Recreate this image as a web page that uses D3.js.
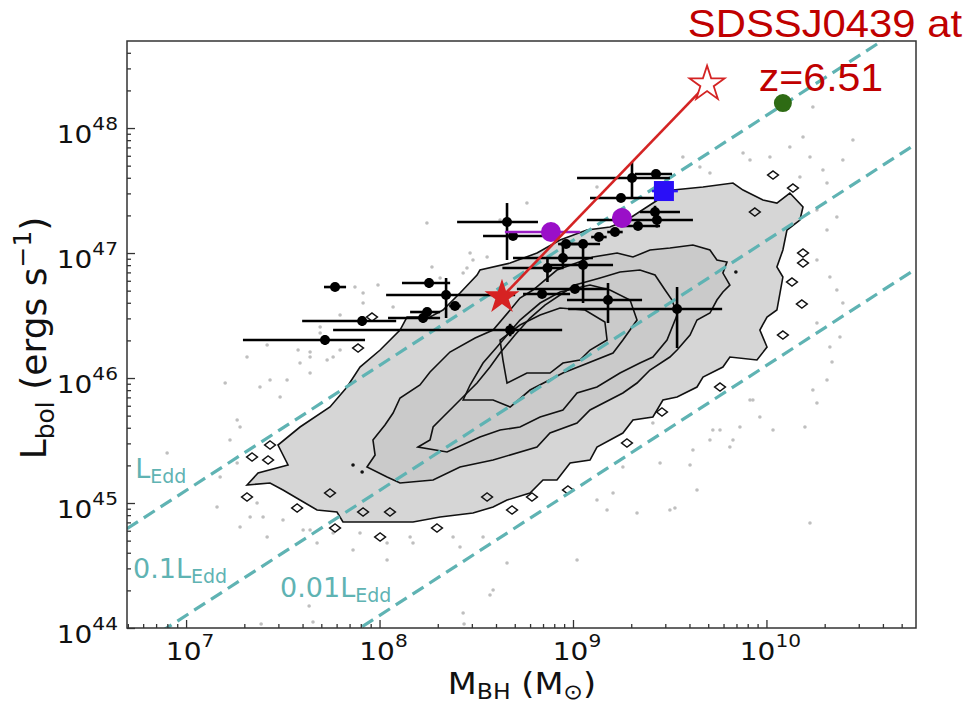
<!DOCTYPE html>
<html><head><meta charset="utf-8">
<script src="https://cdn.jsdelivr.net/npm/d3@7"></script>
<style>body{margin:0;background:#fff}svg{display:block}</style>
</head><body><svg id="c" width="967" height="706"></svg>
<script>
// ---------------- data (log10 values) ----------------
const massTicks = [1e7, 1e8, 1e9, 1e10];
const lumTicks = [1e44, 1e45, 1e46, 1e47, 1e48];
const eddFractions = [1, 0.1, 0.01];
const eddLabels = ["", "0.1", "0.01"];
const eddConst = 1.26e38; // erg/s per solar mass

// SDSS quasar density contours [logM, logL]
const contourOuter = [[7.315,45.144],[7.372,45.240],[7.527,45.304],[7.475,45.464],[7.589,45.608],[7.744,45.768],[7.832,45.928],[7.899,46.088],[8.003,46.224],[8.106,46.384],[8.142,46.488],[8.261,46.488],[8.328,46.544],[8.416,46.680],[8.504,46.824],[8.519,46.864],[8.675,46.920],[8.814,47.000],[8.933,47.104],[9.072,47.184],[9.191,47.208],[9.279,47.264],[9.382,47.368],[9.517,47.504],[9.672,47.528],[9.827,47.560],[9.879,47.504],[9.982,47.424],[10.054,47.400],[10.121,47.480],[10.189,47.368],[10.173,47.264],[10.106,47.184],[10.085,47.024],[10.054,46.888],[10.085,46.808],[10.070,46.680],[10.054,46.544],[10.003,46.488],[9.966,46.384],[10.003,46.248],[9.951,46.144],[9.811,46.168],[9.775,46.088],[9.672,46.008],[9.641,45.928],[9.538,45.848],[9.465,45.824],[9.413,45.688],[9.310,45.664],[9.258,45.560],[9.124,45.448],[9.088,45.344],[8.985,45.320],[8.917,45.184],[8.845,45.184],[8.778,45.080],[8.659,45.024],[8.587,44.968],[8.483,44.920],[8.313,44.888],[8.173,44.848],[8.039,44.848],[7.811,44.848],[7.780,44.928],[7.677,44.944],[7.589,45.024],[7.501,45.104],[7.434,45.160]];
const contour2 = [[7.935,45.288],[7.977,45.384],[7.966,45.504],[8.028,45.624],[8.070,45.720],[8.106,45.840],[8.209,45.944],[8.261,46.048],[8.364,46.208],[8.494,46.320],[8.587,46.384],[8.675,46.544],[8.726,46.640],[8.793,46.704],[8.917,46.864],[9.103,46.968],[9.228,47.000],[9.310,46.968],[9.398,47.024],[9.501,47.040],[9.620,47.064],[9.708,47.024],[9.744,46.944],[9.796,46.928],[9.775,46.840],[9.811,46.744],[9.775,46.688],[9.744,46.624],[9.708,46.520],[9.641,46.464],[9.605,46.344],[9.538,46.224],[9.501,46.168],[9.398,46.064],[9.331,45.960],[9.258,45.880],[9.088,45.744],[9.021,45.640],[8.881,45.560],[8.814,45.448],[8.587,45.344],[8.416,45.288],[8.277,45.184],[8.106,45.160],[8.039,45.208]];
const contour3 = [[8.199,45.448],[8.261,45.504],[8.277,45.608],[8.328,45.688],[8.380,45.768],[8.452,45.880],[8.504,45.960],[8.571,46.088],[8.623,46.200],[8.700,46.344],[8.778,46.480],[8.855,46.584],[8.933,46.664],[9.010,46.744],[9.140,46.800],[9.243,46.848],[9.346,46.864],[9.424,46.824],[9.476,46.704],[9.512,46.624],[9.538,46.504],[9.486,46.304],[9.413,46.168],[9.346,46.120],[9.243,46.040],[9.124,45.928],[9.021,45.880],[8.948,45.744],[8.830,45.688],[8.726,45.608],[8.623,45.584],[8.519,45.528],[8.349,45.408]];
const contour4 = [[8.432,45.824],[8.468,45.944],[8.535,46.120],[8.607,46.248],[8.726,46.464],[8.830,46.600],[8.933,46.688],[9.088,46.744],[9.191,46.704],[9.295,46.624],[9.331,46.464],[9.258,46.304],[9.207,46.200],[8.948,46.040],[8.778,45.904],[8.675,45.768],[8.587,45.824],[8.519,45.824]];
const contour5 = [[8.623,46.304],[8.638,46.144],[8.659,45.960],[8.762,46.040],[8.881,46.040],[8.948,46.120],[9.036,46.144],[9.088,46.224],[9.176,46.304],[9.165,46.448],[9.062,46.544],[8.933,46.560],[8.830,46.504],[8.726,46.424]];
const contourIslands = [[7.434,45.464],[7.341,45.368],[7.424,45.344],[7.315,45.048],[7.744,45.080],[7.574,44.960],[7.770,44.800],[8.003,44.728],[8.297,44.800],[8.556,45.048],[7.915,44.928],[8.054,44.928],[9.760,45.928],[9.460,45.728],[9.279,45.480],[8.974,45.104],[8.788,45.048],[8.685,44.944],[10.034,47.624],[10.137,47.520],[9.940,47.328],[10.189,47.000],[10.189,46.920],[10.132,46.768],[10.183,46.592],[10.085,46.344],[7.961,46.488],[7.889,46.240]];
const contourSpecks = [[7.863,45.304],[7.910,45.248],[9.842,46.848]];
// sparse SDSS quasars outside the dense cloud
const sdssSparse = [[8.245,47.240],[8.271,46.888],[7.873,46.728],[7.992,46.744],[7.915,46.680],[7.915,46.600],[7.796,46.504],[7.693,46.408],[7.693,46.360],[7.419,46.264],[7.315,46.168],[7.579,46.224],[7.641,46.208],[8.070,46.568],[8.483,46.944],[8.432,46.840],[8.313,46.800],[7.202,45.960],[7.434,45.984],[7.522,45.984],[7.589,46.120],[7.641,46.040],[7.264,45.664],[7.176,45.208],[7.279,44.808],[7.419,44.728],[7.501,44.864],[7.605,44.784],[7.677,44.680],[7.863,44.624],[8.039,44.680],[8.173,44.680],[8.380,44.728],[7.367,45.000],[7.760,46.168],[6.902,45.400],[7.160,44.968],[8.039,44.544],[8.587,44.304],[7.388,44.032],[7.636,44.176],[7.656,44.048],[8.437,44.032],[10.225,44.840],[9.641,45.104],[9.501,44.944],[9.021,44.544],[8.659,44.520],[8.571,44.264],[8.432,44.120],[9.605,45.304],[10.034,45.584],[10.199,45.608],[10.240,45.904],[10.313,45.984],[10.261,45.800],[10.328,46.248],[10.380,46.328],[10.339,46.128],[9.450,45.320],[9.258,45.288],[9.176,44.944],[9.124,45.024],[9.811,45.448],[9.863,45.608],[9.915,45.824],[9.760,45.584],[9.527,44.960],[9.207,45.080],[10.225,47.768],[10.292,47.664],[10.261,47.344],[10.313,47.184],[10.364,47.288],[10.261,46.944],[10.328,46.808],[10.364,46.704],[10.261,46.440],[10.395,46.600],[10.018,47.768],[9.915,47.744],[9.656,47.688],[9.568,47.768],[9.879,47.800],[10.121,47.848],[10.189,47.928],[10.240,48.168],[10.447,47.904],[10.395,47.744],[10.313,47.560],[10.173,47.608],[9.708,47.640],[9.124,47.528],[8.762,47.400],[8.623,47.264],[8.452,46.880],[8.468,47.000],[8.556,46.968],[9.723,45.584],[9.708,45.504],[9.620,45.424],[9.413,45.640],[9.331,44.920],[9.827,45.504],[9.966,45.688],[9.930,45.824],[7.382,45.928],[7.486,45.848],[7.279,45.608],[7.227,45.504],[7.264,45.320],[7.331,44.888],[7.398,44.888],[7.641,44.784],[7.760,44.760],[7.899,44.760],[8.158,44.728],[8.416,44.648],[8.535,44.728],[7.641,46.168],[7.729,46.144],[7.796,46.224]];
// high-z quasars: [logM, logL, mErrLo, mErrHi, lErrUp, lErrDn]
const highzQuasars = [[7.770,46.728,0.057,0.057,0.03,0.03],[8.256,46.760,0.140,0.109,0.04,0.04],[8.344,46.664,0.310,0.357,0.136,0.184],[8.390,46.576,0.03,0.03,0.03,0.03],[8.246,46.528,0.088,0.067,0.03,0.03],[8.225,46.480,0.181,0.088,0.04,0.04],[7.910,46.456,0.310,0.176,0.04,0.04],[7.718,46.304,0.424,0.207,0.04,0.04],[8.675,46.384,0.915,0.269,0.05,0.05],[8.659,47.248,0.258,0.160,0.152,0.304],[8.690,47.136,0.155,0.165,0.03,0.03],[9.305,47.600,0.284,0.196,0.128,0.152],[9.429,47.632,0.109,0.083,0.03,0.03],[9.248,47.440,0.160,0.202,0.03,0.03],[9.424,47.328,0.078,0.129,0.05,0.05],[9.434,47.264,0.362,0.186,0.06,0.06],[9.336,47.216,0.093,0.114,0.03,0.03],[9.217,47.168,0.04,0.04,0.03,0.03],[9.134,47.128,0.04,0.04,0.03,0.03],[9.052,47.072,0.119,0.088,0.03,0.03],[8.964,47.072,0.041,0.109,0.03,0.03],[8.948,46.960,0.258,0.155,0.12,0.08],[9.052,46.904,0.186,0.155,0.2,0.304],[8.868,46.880,0.233,0.083,0.088,0.112],[9.010,46.712,0.300,0.165,0.03,0.03],[8.840,46.672,0.098,0.145,0.03,0.03],[9.181,46.624,0.212,0.176,0.136,0.184],[9.538,46.552,0.563,0.233,0.176,0.312]];
const purpleQuasars = [[8.886,47.168,0.238,0.150],[9.253,47.280,0.05,0.05]];
const blueQuasar = [9.470,47.496,0.062,0.072];
const greenQuasar = [10.085,48.200,0.04,0.04];
const targetObserved = [8.633,46.648];   // SDSSJ0439 observed
const targetCorrected = [9.693,48.352];  // SDSSJ0439 intrinsic
const titleLines = ["SDSSJ0439 at", "z=6.51"];

// ---------------- layout ----------------
const svg = d3.select("#c");
const L = 127, R = 916, T = 41, B = 628;
const x = d3.scaleLog().domain([4.95e6, 5.93e10]).range([L, R]);
const y = d3.scaleLog().domain([1e44, 4.97e48]).range([B, T]);
const X = v => x(Math.pow(10, v));
const Y = v => y(Math.pow(10, v));
const teal = "#5fb3b3", TF = "DejaVu Sans, sans-serif";

svg.append("defs").append("clipPath").attr("id","pc").append("rect")
  .attr("x",L).attr("y",T).attr("width",R-L).attr("height",B-T);
const g = svg.append("g").attr("clip-path","url(#pc)");

const line = d3.line().x(d=>X(d[0])).y(d=>Y(d[1])).curve(d3.curveLinearClosed);

// gray cloud
g.append("path").attr("d", line(contourOuter)).attr("fill","#d6d6d6");
g.append("path").attr("d", line(contour2)).attr("fill","#cacaca");
g.selectAll("circle.sp").data(sdssSparse).join("circle").attr("class","sp")
  .attr("cx",d=>X(d[0])).attr("cy",d=>Y(d[1])).attr("r",1.8).attr("fill","#bfbfbf");

// contours
[contourOuter, contour2, contour3, contour4, contour5].forEach(c=>{
  g.append("path").attr("d", line(c)).attr("fill","none").attr("stroke","#111").attr("stroke-width",1.6);
});
g.selectAll("path.isl").data(contourIslands).join("path").attr("class","isl")
  .attr("d", d3.symbol(d3.symbolDiamond, 40))
  .attr("transform", d=>`translate(${X(d[0])},${Y(d[1])}) scale(1.6,0.7)`)
  .attr("fill","none").attr("stroke","#111").attr("stroke-width",1.3);
g.selectAll("circle.spk").data(contourSpecks).join("circle").attr("class","spk")
  .attr("cx",d=>X(d[0])).attr("cy",d=>Y(d[1])).attr("r",1.8).attr("fill","#111");

// Eddington lines
const mDom = x.domain();
eddFractions.forEach(f=>{
  g.append("line")
    .attr("x1", x(mDom[0])).attr("y1", y(f*eddConst*mDom[0]))
    .attr("x2", x(mDom[1])).attr("y2", y(f*eddConst*mDom[1]))
    .attr("stroke", teal).attr("stroke-width",3.2).attr("stroke-dasharray","13,7");
});

// error bars + points of high-z quasars
const eb = g.append("g").attr("stroke","#000").attr("stroke-width",2.6);
highzQuasars.forEach(d=>{
  eb.append("line").attr("x1",X(d[0]-d[2])).attr("x2",X(d[0]+d[3])).attr("y1",Y(d[1])).attr("y2",Y(d[1]));
  eb.append("line").attr("x1",X(d[0])).attr("x2",X(d[0])).attr("y1",Y(d[1]+d[4])).attr("y2",Y(d[1]-d[5]));
});
g.selectAll("circle.hq").data(highzQuasars).join("circle").attr("class","hq")
  .attr("cx",d=>X(d[0])).attr("cy",d=>Y(d[1])).attr("r",5).attr("fill","#000");

// purple
purpleQuasars.forEach(d=>{
  g.append("line").attr("x1",X(d[0]-d[2])).attr("x2",X(d[0]+d[3])).attr("y1",Y(d[1])).attr("y2",Y(d[1]))
   .attr("stroke","#9a1ec4").attr("stroke-width",2.6);
});
g.selectAll("circle.pq").data(purpleQuasars).join("circle").attr("class","pq")
  .attr("cx",d=>X(d[0])).attr("cy",d=>Y(d[1])).attr("r",10).attr("fill","#9a0fc8");
// blue
g.append("line").attr("x1",X(blueQuasar[0]-blueQuasar[2])).attr("x2",X(blueQuasar[0]+blueQuasar[3]))
  .attr("y1",Y(blueQuasar[1])).attr("y2",Y(blueQuasar[1])).attr("stroke","#2a1af5").attr("stroke-width",2.6);
g.append("rect").attr("x",X(blueQuasar[0])-10).attr("y",Y(blueQuasar[1])-10).attr("width",20).attr("height",20).attr("fill","#2a0ff7");
// green
g.append("line").attr("x1",X(greenQuasar[0]-greenQuasar[2])).attr("x2",X(greenQuasar[0]+greenQuasar[3]))
  .attr("y1",Y(greenQuasar[1])).attr("y2",Y(greenQuasar[1])).attr("stroke","#2e6b14").attr("stroke-width",2.6);
g.append("circle").attr("cx",X(greenQuasar[0])).attr("cy",Y(greenQuasar[1])).attr("r",9).attr("fill","#2e6b14");

// SDSSJ0439 track
g.append("line").attr("x1",X(targetObserved[0])).attr("y1",Y(targetObserved[1]))
  .attr("x2",X(targetCorrected[0])).attr("y2",Y(targetCorrected[1]))
  .attr("stroke","#d42424").attr("stroke-width",2.6);
g.append("path").attr("d", d3.symbol(d3.symbolStar, 380)())
  .attr("transform",`translate(${X(targetObserved[0])},${Y(targetObserved[1])})`).attr("fill","#d62222");
g.append("path").attr("d", d3.symbol(d3.symbolStar, 380)())
  .attr("transform",`translate(${X(targetCorrected[0])},${Y(targetCorrected[1])})`)
  .attr("fill","#fff").attr("stroke","#d42424").attr("stroke-width",1.8);

// frame
svg.append("rect").attr("x",L).attr("y",T).attr("width",R-L).attr("height",B-T)
  .attr("fill","none").attr("stroke","#333").attr("stroke-width",1.5);

// axes ticks (inward)
const minorX = [], minorY = [];
for (let e=6; e<=10; e++) for (let k=2;k<=9;k++){ const v=k*Math.pow(10,e); if(v>mDom[0]&&v<mDom[1]) minorX.push(v); }
for (let e=44; e<=48; e++) for (let k=2;k<=9;k++){ const v=k*Math.pow(10,e); if(v<y.domain()[1]) minorY.push(v); }
const ax = svg.append("g").attr("transform",`translate(0,${B})`);
ax.call(d3.axisBottom(x).tickValues(massTicks).tickSize(-8).tickFormat(""));
ax.append("g").call(d3.axisBottom(x).tickValues(minorX).tickSize(-4).tickFormat(""));
const ay = svg.append("g").attr("transform",`translate(${L},0)`);
ay.call(d3.axisLeft(y).tickValues(lumTicks).tickSize(-8).tickFormat(""));
ay.append("g").call(d3.axisLeft(y).tickValues(minorY).tickSize(-4).tickFormat(""));
svg.selectAll(".domain").remove();
svg.selectAll(".tick line").attr("stroke","#333").attr("stroke-width",1.3);

// tick labels
const SX = 1.12;
lumTicks.forEach(v=>{
  const t = svg.append("text").attr("transform",`translate(118,${y(v)}) scale(${SX},1)`)
    .attr("text-anchor","end").attr("font-family",TF).attr("fill","#111");
  t.append("tspan").attr("y",15).attr("font-size",25).text("10");
  t.append("tspan").attr("dy",-13).attr("font-size",18).text(Math.round(Math.log10(v)));
});
massTicks.forEach(v=>{
  const t = svg.append("text").attr("transform",`translate(${x(v)+4},660) scale(${SX},1)`)
    .attr("text-anchor","middle").attr("font-family",TF).attr("fill","#111");
  t.append("tspan").attr("font-size",25).text("10");
  t.append("tspan").attr("dy",-13).attr("font-size",18).text(Math.round(Math.log10(v)));
});

// axis titles
const xl = svg.append("text").attr("transform",`translate(522,694) scale(${SX},1)`)
  .attr("text-anchor","middle").attr("font-family",TF).attr("font-size",30).attr("fill","#111");
xl.append("tspan").text("M");
xl.append("tspan").attr("font-size",21).attr("dy",5).text("BH");
xl.append("tspan").attr("dy",-5).text(" (M");
xl.append("tspan").attr("font-size",21).attr("dy",5).text("⊙");
xl.append("tspan").attr("dy",-5).text(")");

const yl = svg.append("text").attr("transform","translate(46,338) rotate(-90)")
  .attr("text-anchor","middle").attr("font-family",TF).attr("font-size",36).attr("fill","#111");
yl.append("tspan").text("L");
yl.append("tspan").attr("font-size",25).attr("dy",8).text("bol");
yl.append("tspan").attr("dy",-8).text(" (ergs s");
yl.append("tspan").attr("font-size",25).attr("dy",-15).text("−1");
yl.append("tspan").attr("dy",15).text(")");

// Eddington labels (anchored in data space)
const eddLabelPos = [[6.737,45.200],[6.726,44.400],[7.486,44.248]];
eddLabels.forEach((s,i)=>{
  const t = svg.append("text").attr("x",X(eddLabelPos[i][0])).attr("y",Y(eddLabelPos[i][1]))
    .attr("font-family",TF).attr("font-size",27).attr("fill",teal);
  t.append("tspan").text(s+"L");
  t.append("tspan").attr("font-size",19).attr("dy",5).text("Edd");
});

// title
svg.append("text").attr("transform","translate(962,37) scale(1.1,1)").attr("text-anchor","end")
  .attr("font-family","Liberation Sans, Arial, sans-serif").attr("font-size",38).attr("fill","#c00000").text(titleLines[0]);
svg.append("text").attr("transform","translate(821,91) scale(1.08,1)").attr("text-anchor","middle")
  .attr("font-family","Liberation Sans, Arial, sans-serif").attr("font-size",38).attr("fill","#c00000").text(titleLines[1]);
</script></body></html>
